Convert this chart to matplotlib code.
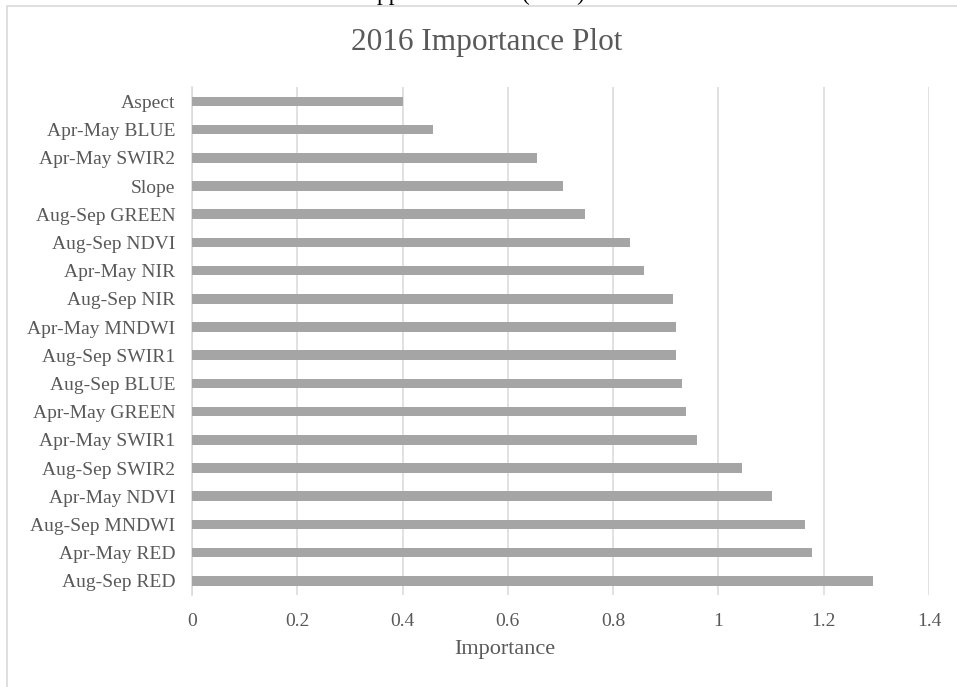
import matplotlib
matplotlib.use("Agg")
import matplotlib.pyplot as plt
from matplotlib.patches import Rectangle
from matplotlib.ticker import FuncFormatter

# variable importance, top to bottom as shown
features = [
    "Aspect", "Apr-May BLUE", "Apr-May SWIR2", "Slope", "Aug-Sep GREEN",
    "Aug-Sep NDVI", "Apr-May NIR", "Aug-Sep NIR", "Apr-May MNDWI",
    "Aug-Sep SWIR1", "Aug-Sep BLUE", "Apr-May GREEN", "Apr-May SWIR1",
    "Aug-Sep SWIR2", "Apr-May NDVI", "Aug-Sep MNDWI", "Apr-May RED",
    "Aug-Sep RED",
]
importance = [
    0.400, 0.457, 0.655, 0.705, 0.746,
    0.832, 0.859, 0.914, 0.920,
    0.920, 0.930, 0.939, 0.959,
    1.045, 1.101, 1.164, 1.177,
    1.293,
]
x_ticks = [0, 0.2, 0.4, 0.6, 0.8, 1.0, 1.2, 1.4]

W, H = 957, 687
plt.rcParams["font.family"] = ["Liberation Serif", "DejaVu Serif"]
text_col = "#595959"
grid_col = "#d9d9d9"

fig = plt.figure(figsize=(W / 100, H / 100), dpi=100)
fig.patch.set_facecolor("white")

# chart area border (runs off the right and bottom of the picture)
fig.add_artist(Rectangle((7.5 / W, -0.1), 1.2, 1.1 - 6 / H,
                         transform=fig.transFigure, fill=False,
                         edgecolor=grid_col, linewidth=1.2))

# heading of the page above, mostly cut off
fig.text(361 / W, 1.0, "Appendix", fontsize=17, color="black",
         ha="left", va="baseline")
fig.text(553 / W, 1.0, "(2016)", fontsize=17, color="black",
         ha="center", va="baseline")

ax = fig.add_axes([192 / W, 1 - 595 / H, (929 - 192) / W, (595 - 87.3) / H])

ypos = list(range(len(features)))
ax.barh(ypos, importance, height=0.34, color="#a5a5a5", zorder=3)

ax.set_ylim(len(features) - 0.5, -0.5)
ax.set_yticks(ypos)
ax.set_yticklabels(features)
ax.set_xlim(0, 1.4)
ax.set_xticks(x_ticks)
ax.xaxis.set_major_formatter(FuncFormatter(lambda v, p: f"{v:g}"))

ax.grid(axis="x", color=grid_col, linewidth=1.1, zorder=0)
for s in ["top", "right", "bottom"]:
    ax.spines[s].set_visible(False)
ax.spines["left"].set_color(grid_col)
ax.spines["left"].set_linewidth(1.1)
ax.tick_params(axis="both", length=0, labelsize=14, labelcolor=text_col)
ax.tick_params(axis="y", pad=12)
ax.tick_params(axis="x", pad=13)

fig.text(487 / W, 1 - 50 / H, "2016 Importance Plot", fontsize=22.5,
         color=text_col, ha="center", va="baseline")
fig.text(505 / W, 1 - 654 / H, "Importance", fontsize=16,
         color=text_col, ha="center", va="baseline")

fig.savefig("out.png", dpi=100)
